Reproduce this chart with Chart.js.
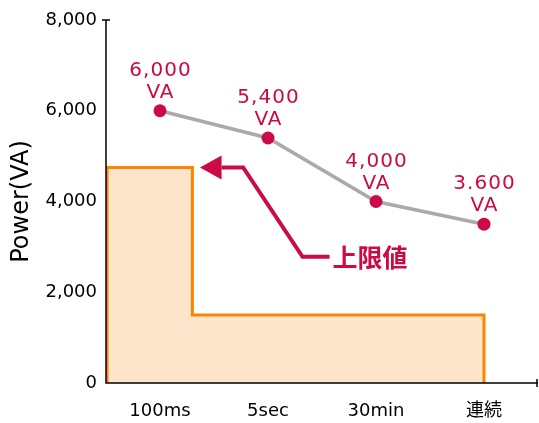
<!DOCTYPE html>
<html>
<head>
<meta charset="utf-8">
<script src="https://cdn.jsdelivr.net/npm/chart.js@4/dist/chart.umd.min.js"></script>
<style>
  html, body { margin: 0; padding: 0; background: #fff; }
  #wrap { width: 539px; height: 423px; position: relative; }
</style>
</head>
<body>
<div id="wrap"><canvas id="c"></canvas></div>
<script>
// ---- data ----
const categories = ['100ms', '5sec', '30min', '連続'];
const ratingVA = [6000, 5400, 4000, 3500];
const ratingLabels = ['6,000', '5,400', '4,000', '3.600'];
const ratingUnit = 'VA';
const limitX = [-0.49, -0.49, 0.3, 0.3, 3, 3];
const limitY = [0, 4750, 4750, 1500, 1500, 0];
const yTicks = [0, 2000, 4000, 6000, 8000];
const arrowX = [0.37, 0.57, 0.77, 1.32, 1.57];
const arrowY = [4750, 4750, 4750, 2780, 2780];
const arrowText = '上限値';
const yTitle = 'Power(VA)';

const CRIMSON = '#cc0a45';
const FONT = '"DejaVu Sans", "Noto Sans CJK JP", sans-serif';

const limitData = limitX.map((v, i) => ({ x: v, y: limitY[i] }));

const overlay = {
  id: 'overlay',
  afterDatasetsDraw(chart) {
    const { ctx, chartArea: a, scales } = chart;
    const y = scales.y, x2 = scales.x2;
    ctx.save();
    // axes
    ctx.strokeStyle = '#000';
    ctx.lineWidth = 1.5;
    ctx.beginPath();
    ctx.moveTo(a.left, a.top); ctx.lineTo(a.left, a.bottom); ctx.lineTo(a.right, a.bottom);
    ctx.moveTo(a.left - 4, a.top); ctx.lineTo(a.left + 4, a.top);
    ctx.moveTo(a.right - 1, a.bottom - 4); ctx.lineTo(a.right - 1, a.bottom + 4);
    ctx.stroke();

    // arrow
    const px = arrowX.map(v => x2.getPixelForValue(v));
    const py = arrowY.map(v => y.getPixelForValue(v));
    ctx.strokeStyle = CRIMSON;
    ctx.fillStyle = CRIMSON;
    ctx.lineWidth = 4;
    ctx.lineJoin = 'miter';
    ctx.beginPath();
    ctx.moveTo(px[1], py[1]);
    for (let i = 2; i < px.length; i++) ctx.lineTo(px[i], py[i]);
    ctx.stroke();
    ctx.beginPath();
    ctx.moveTo(px[0], py[0]);
    ctx.lineTo(px[1], py[1] - 12);
    ctx.lineTo(px[1], py[1] + 12);
    ctx.closePath();
    ctx.fill();
    ctx.font = 'bold 25px "Noto Sans CJK JP", sans-serif';
    ctx.textAlign = 'left';
    ctx.textBaseline = 'middle';
    const n = px.length - 1;
    ctx.fillText(arrowText, px[n] + 3, py[n] + 1);

    // point labels
    const meta = chart.getDatasetMeta(0);
    ctx.font = '20px ' + FONT;
    ctx.textAlign = 'center';
    ctx.textBaseline = 'alphabetic';
    try { ctx.letterSpacing = '1px'; } catch (e) {}
    meta.data.forEach((pt, i) => {
      ctx.fillText(ratingUnit, pt.x + 0.5, pt.y - 13);
      ctx.fillText(ratingLabels[i], pt.x + 0.5, pt.y - 35);
    });
    ctx.restore();
  }
};

new Chart(document.getElementById('c'), {
  data: {
    labels: categories,
    datasets: [
      {
        type: 'line',
        data: ratingVA,
        xAxisID: 'x',
        borderColor: '#aaaaaa',
        borderWidth: 3.5,
        pointRadius: 6.5,
        pointBackgroundColor: CRIMSON,
        pointBorderWidth: 0,
        tension: 0,
        fill: false
      },
      {
        type: 'line',
        data: limitData,
        xAxisID: 'x2',
        borderColor: '#ff8400',
        borderWidth: 3,
        backgroundColor: '#fde5cc',
        pointRadius: 0,
        tension: 0,
        fill: 'origin'
      }
    ]
  },
  options: {
    responsive: true,
    maintainAspectRatio: false,
    animation: false,
    events: [],
    layout: { autoPadding: false, padding: { top: 20, right: 1, left: 0, bottom: 0 } },
    plugins: { legend: { display: false }, tooltip: { enabled: false } },
    scales: {
      x: {
        type: 'category',
        offset: true,
        grid: { display: false, drawTicks: false },
        border: { display: false },
        ticks: { color: '#000', font: { family: FONT, size: 18 }, padding: 18, maxRotation: 0 },
        afterFit(s) { s.height = 40; }
      },
      x2: {
        type: 'linear',
        display: false,
        min: -0.5,
        max: 3.5
      },
      y: {
        min: yTicks[0],
        max: yTicks[yTicks.length - 1],
        afterBuildTicks(s) { s.ticks = yTicks.map(v => ({ value: v })); },
        grid: { display: false, drawTicks: false },
        border: { display: false },
        ticks: {
          color: '#000',
          font: { family: FONT, size: 18 },
          padding: 9,
          callback: v => v.toLocaleString('en-US')
        },
        title: {
          display: true,
          text: yTitle,
          color: '#000',
          font: { family: FONT, size: 24 },
          padding: { top: 7, bottom: 0 }
        },
        afterFit(s) { s.width = 106; }
      }
    }
  },
  plugins: [overlay]
});
</script>
</body>
</html>
